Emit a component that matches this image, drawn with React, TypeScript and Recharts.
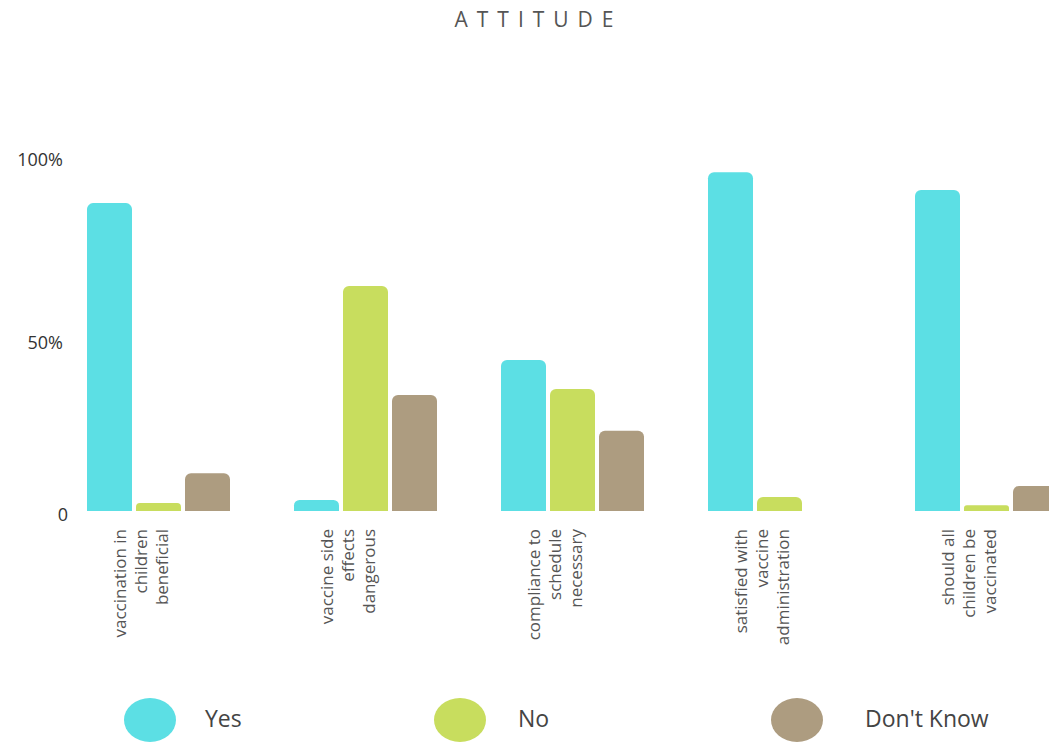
import { Bar, BarChart, Legend, XAxis, YAxis } from 'recharts'

const categories = [
  'vaccination in\nchildren\nbeneficial',
  'vaccine side\neffects\ndangerous',
  'compliance to\nschedule\nnecessary',
  'satisfied with\nvaccine\nadministration',
  'should all\nchildren be\nvaccinated',
]
const yes = [89.5, 3.2, 43.9, 98.5, 93.3]
const no = [2.3, 65.4, 35.5, 4.1, 1.7]
const dontKnow = [11, 33.7, 23.3, 0, 7.3]
const yTicks = [0, 50, 100]

const series = [
  { key: 'yes', name: 'Yes', color: '#5cdfe4' },
  { key: 'no', name: 'No', color: '#c8dd5e' },
  { key: 'dk', name: "Don't Know", color: '#ad9c80' },
]

const data = categories.map((c, i) => ({
  name: c,
  yes: yes[i],
  no: no[i],
  dk: dontKnow[i],
}))

const FONT = '"Open Sans", sans-serif'

function CategoryTick({ x, y, payload }: any) {
  const lines = String(payload.value).split('\n')
  const step = 21
  const start = -((lines.length - 1) * step) / 2 - 18
  return (
    <g transform={`translate(${x},${y})`}>
      {lines.map((l, i) => (
        <text
          key={i}
          transform={`translate(${start + i * step},10) rotate(-90)`}
          textAnchor="end"
          dominantBaseline="central"
          fill="#555"
          fontSize={17}
          fontFamily={FONT}
        >
          {l}
        </text>
      ))}
    </g>
  )
}

function PercentTick({ y, payload }: any) {
  const v = payload.value
  return (
    <text
      x={v === 0 ? 68 : 63}
      y={v === 100 ? y - 8 : y + 3}
      textAnchor="end"
      dominantBaseline="central"
      fill="#333"
      fontSize={18}
      fontFamily={FONT}
    >
      {v === 0 ? '0' : `${v}%`}
    </text>
  )
}

function LegendRow() {
  const spots = [
    { cx: 150, tx: 205 },
    { cx: 460, tx: 518 },
    { cx: 797, tx: 865 },
  ]
  return (
    <div style={{ position: 'relative', width: 1049, height: 54 }}>
      {series.map((s, i) => (
        <div key={s.key}>
          <div
            style={{
              position: 'absolute',
              left: spots[i].cx - 26,
              top: 17,
              width: 52,
              height: 44,
              borderRadius: '50%',
              background: s.color,
            }}
          />
          <div
            style={{
              position: 'absolute',
              left: spots[i].tx,
              top: 22,
              fontSize: 23,
              fontFamily: FONT,
              color: '#444',
              lineHeight: '30px',
            }}
          >
            {s.name}
          </div>
        </div>
      ))}
    </div>
  )
}

export default function App() {
  return (
    <div
      style={{
        position: 'absolute',
        left: 0,
        top: 0,
        width: 1049,
        height: 744,
        overflow: 'hidden',
        background: '#fff',
      }}
    >
      <div
        style={{
          position: 'absolute',
          top: 5,
          left: 0,
          width: 1049,
          textAlign: 'center',
          fontFamily: FONT,
          fontSize: 21,
          letterSpacing: 9,
          color: '#555',
          paddingLeft: 14,
        }}
      >
        ATTITUDE
      </div>
      <BarChart
        width={1100}
        height={744}
        data={data}
        margin={{ top: 167, right: 10, bottom: 9, left: 0 }}
        barSize={45}
        barGap={4}
      >
        <XAxis
          dataKey="name"
          axisLine={false}
          tickLine={false}
          height={170}
          interval={0}
          tick={<CategoryTick />}
        />
        <YAxis
          domain={[0, 100]}
          ticks={yTicks}
          axisLine={false}
          tickLine={false}
          width={55}
          tick={<PercentTick />}
        />
        <Legend
          verticalAlign="bottom"
          wrapperStyle={{ left: 0, width: 1049, height: 54 }}
          content={() => <LegendRow />}
        />
        {series.map((s) => (
          <Bar
            key={s.key}
            dataKey={s.key}
            name={s.name}
            fill={s.color}
            radius={[6, 6, 0, 0]}
            isAnimationActive={false}
          />
        ))}
      </BarChart>
    </div>
  )
}
